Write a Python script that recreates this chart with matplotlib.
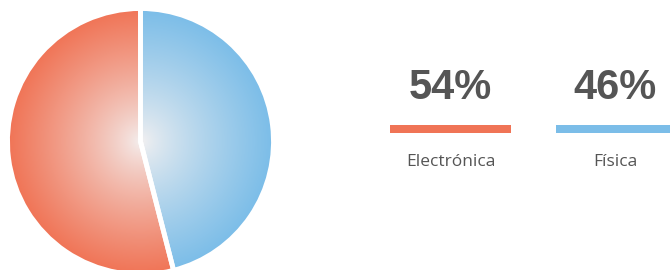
import numpy as np
import matplotlib.pyplot as plt
from matplotlib.colors import LinearSegmentedColormap

labels = ['Física', 'Electrónica']
values = [46, 54]
colors = ['#7bbde8', '#f07456']
pct_labels = ['46%', '54%']

W, H = 670, 270
fig = plt.figure(figsize=(W / 100, H / 100), dpi=100)
ax = fig.add_axes([0, 0, 1, 1])

cx, cy, r = 140.5, 128.5, 133

wedges, _ = ax.pie(values, colors=colors, startangle=90, counterclock=False,
                   center=(cx, cy), radius=r, frame=True,
                   wedgeprops=dict(edgecolor='white', linewidth=3.5))
ax.set_xlim(0, W)
ax.set_ylim(0, H)
ax.axis('off')

# radial gradient from a pale centre to the slice colour
yy, xx = np.mgrid[-1:1:400j, -1:1:400j]
rr = np.clip(np.sqrt(xx ** 2 + yy ** 2), 0, 1) ** 0.8
for w, c in zip(wedges, colors):
    cmap = LinearSegmentedColormap.from_list('g', ['#f4f1f1', c])
    im = ax.imshow(rr, cmap=cmap, vmin=0, vmax=1,
                   extent=(cx - r, cx + r, cy - r, cy + r), zorder=1)
    im.set_clip_path(w)
    w.set_facecolor('none')
    w.set_zorder(2)

# legend blocks on the right
bar_x = [(556, 674), (390, 511)]
for (x0, x1), c, pct, lab in zip(bar_x, colors, pct_labels, labels):
    xc = (x0 + x1) / 2
    ax.add_patch(plt.Rectangle((x0, H - 133), x1 - x0, 8, color=c, lw=0))
    ax.text(xc, H - 88, pct, ha='center', va='center', fontsize=30,
            fontweight='bold', color='#555555', family='Liberation Sans')
    ax.text(xc, H - 162, lab, ha='center', va='center', fontsize=12.5,
            color='#555555', family='Open Sans')

ax.set_aspect('auto')
fig.savefig('out.png', dpi=100)
